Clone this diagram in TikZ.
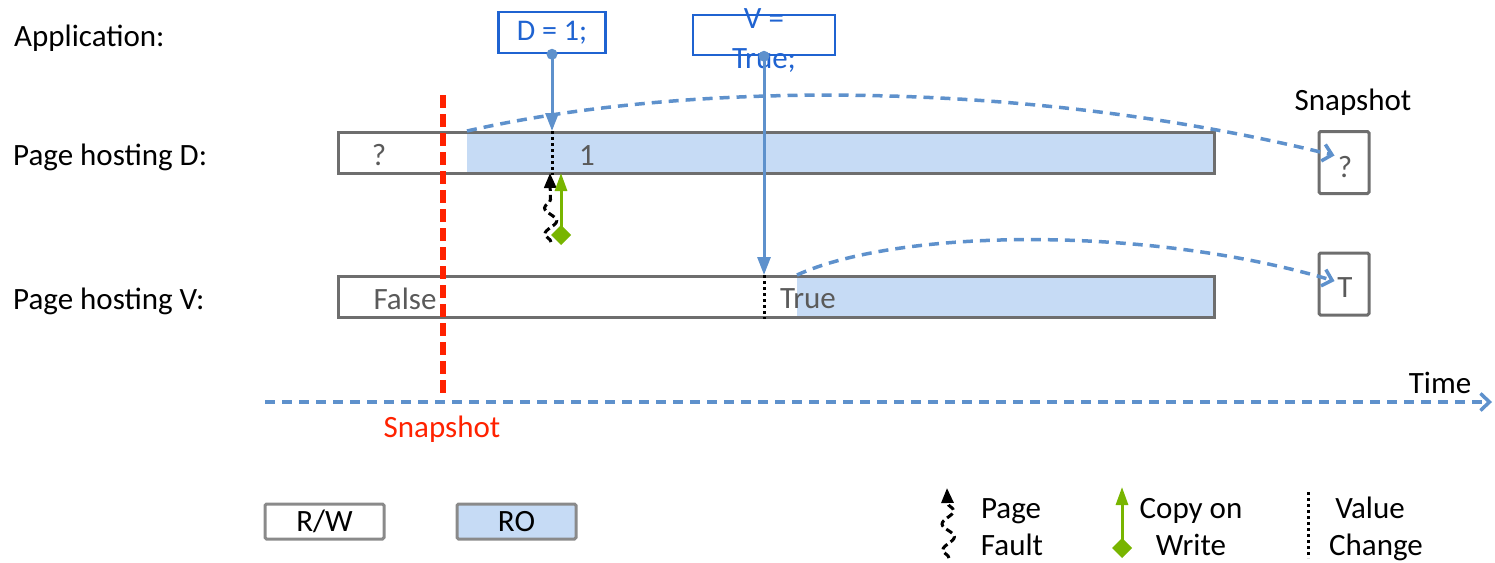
\documentclass[tikz,border=0pt]{standalone}
\usepackage{fontspec}
\setmainfont{Carlito}
\usetikzlibrary{arrows.meta,decorations.pathmorphing,calc}
\definecolor{barline}{HTML}{6E6E6E}
\definecolor{legline}{HTML}{8A8A8A}
\definecolor{rofill}{HTML}{C6DBF5}
\definecolor{flowblue}{HTML}{5E91CC}
\definecolor{codeblue}{HTML}{1F63D1}
\definecolor{cowgreen}{HTML}{78B500}
\definecolor{snapred}{HTML}{FF2200}
\definecolor{valtext}{HTML}{5A5A5A}
\begin{document}
\begin{tikzpicture}[x=1pt,y=-1pt,
  lbl/.style={font=\fontsize{31}{37}\selectfont, inner sep=0pt, anchor=base},
  lblw/.style={lbl, anchor=base west},
  valtxt/.style={lbl, text=valtext},
  pagebar/.style={draw=barline, line width=3pt, minimum width=876pt, minimum height=41pt, inner sep=0pt, anchor=north west},
  snapbox/.style={draw=barline, line width=3pt, rounded corners=1.5pt, minimum width=50pt, minimum height=62pt, inner sep=0pt},
  legbox/.style={draw=legline, line width=3pt, rounded corners=1.5pt, minimum width=119pt, minimum height=35pt, inner sep=0pt, font=\fontsize{31}{37}\selectfont},
  codebox/.style={draw=codeblue, line width=2.5pt, inner sep=0pt, text=codeblue, font=\fontsize{30}{36}\selectfont},
  flow/.style={draw=flowblue, line width=3pt},
  flowdash/.style={draw=flowblue, line width=3.5pt, dash pattern=on 10pt off 7pt},
  openhead/.style={-{Straight Barb[length=9pt,width=17pt]}},
  valchg/.style={draw=black, line width=3pt, dash pattern=on 3pt off 3pt},
  fault/.style={draw=black, line width=3pt, dash pattern=on 7pt off 4pt,
    -{Triangle[length=15pt,width=12pt]}, decorate,
    decoration={snake, amplitude=6pt, segment length=26pt, post length=14pt}},
  cow/.style={draw=cowgreen, line width=3pt, {Diamond[length=20pt,width=20pt]}-{Triangle[length=18pt,width=12pt]}, cowgreen},
]
\useasboundingbox (0,0) rectangle (1495,562);

% row labels
\node[lblw] (lapp) at (14,46) {Application:};
\node[lblw] (lpd) at (13,165) {Page hosting D:};
\node[lblw] (lpv) at (13,309) {Page hosting V:};

% read-only parts of the pages
\fill[rofill] (467,131) rectangle (1213,172);
\fill[rofill] (797,275) rectangle (1213,316);

% the two pages
\node[pagebar] (barD) at (337,131) {};
\node[pagebar] (barV) at (337,275) {};
\coordinate (roD) at (467,131);
\coordinate (roV) at (797,275);

% values held by the pages
\node[valtxt] (qD) at (379,165) {?};
\node[valtxt] (oneD) at (587,165) {1};
\node[valtxt] (falseV) at (405,309) {False};
\node[valtxt] (trueV) at (808,308) {True};

% application writes
\node[codebox, minimum width=107pt, minimum height=41pt] (setD) at (552,32.5) {D = 1;};
\node[codebox, minimum width=142pt, minimum height=40pt] (setV) at (764,35) {};
\node[lbl, text=codeblue] (setVa) at (764,28) {V =};
\node[lbl, text=codeblue] (setVb) at (764,68) {True;};

\fill[flowblue] (setD.south) circle (5.5pt);
\draw[flow, -{Triangle[length=18pt,width=13pt]}] (setD.south) -- (setD.south |- barD.north);
\fill[flowblue] (setV.south) circle (5.5pt);
\draw[flow, -{Triangle[length=18pt,width=13pt]}] (setV.south) -- (setV.south |- barV.north);

% value changes
\draw[valchg] (setD.south |- barD.north) -- (setD.south |- barD.south);
\draw[valchg] (setV.south |- barV.north) -- (setV.south |- barV.south);

% page fault and copy on write
\coordinate (pfStart) at (551,242);
\coordinate (pfEnd) at (550,173);
\draw[fault] (pfStart) -- (pfEnd);
\coordinate (cowStart) at (561,245);
\coordinate (cowEnd) at (561,173);
\draw[cow] (cowStart) -- (cowEnd);

% snapshot line
\coordinate (snapTop) at (443,95);
\coordinate (snapBot) at (443,395);
\draw[snapred, line width=5.5pt, dash pattern=on 13pt off 6pt] (snapTop) -- (snapBot);
\node[lbl, text=snapred] (snapLbl) at (442,437) {Snapshot};

% time axis
\coordinate (tStart) at (265,402);
\coordinate (tEnd) at (1492,402);
\draw[flowdash, openhead] (tStart) -- (tEnd);
\node[lbl] (timeLbl) at (1440,393) {Time};

% snapshot copies
\node[lbl] (snapHdr) at (1353,110) {Snapshot};
\node[snapbox] (snapD) at (1344,162.5) {};
\node[snapbox] (snapV) at (1344,284) {};
\node[valtxt] (snapDq) at (1345,177) {?};
\node[valtxt] (snapVt) at (1345,297) {T};
\draw[flowdash, openhead] (roD) .. controls (700,78) and (1040,82) .. ($(snapD.west)+(17,-7)$);
\draw[flowdash, openhead] (roV) .. controls (900,228) and (1150,226) .. ($(snapV.west)+(17,-3)$);

% legend
\node[legbox] (legRW) at (324.5,521.5) {R/W};
\node[legbox, fill=rofill] (legRO) at (516.5,521.5) {RO};

\coordinate (lpfStart) at (949,558);
\coordinate (lpfEnd) at (947,488);
\draw[fault] (lpfStart) -- (lpfEnd);
\node[lbl] (lPage) at (1011,518) {Page};
\node[lbl] (lFault) at (1012,555) {Fault};

\coordinate (lcowStart) at (1122,558);
\coordinate (lcowEnd) at (1122,487);
\draw[cow] (lcowStart) -- (lcowEnd);
\node[lbl] (lCopy) at (1191,518) {Copy on};
\node[lbl] (lWrite) at (1191,555) {Write};

\coordinate (lvcTop) at (1308,492);
\coordinate (lvcBot) at (1308,558);
\draw[valchg] (lvcTop) -- (lvcBot);
\node[lbl] (lValue) at (1370,518) {Value};
\node[lbl] (lChange) at (1376,555) {Change};
\end{tikzpicture}
\end{document}
